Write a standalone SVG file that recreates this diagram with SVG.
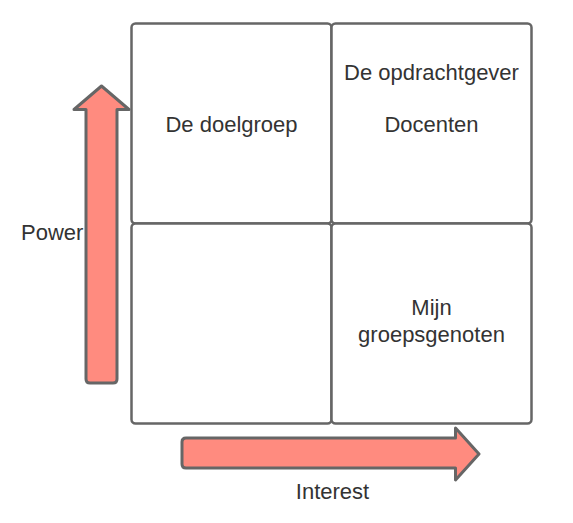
<svg xmlns="http://www.w3.org/2000/svg" width="573" height="523" viewBox="0 0 573 523">
<style>
.box{fill:#ffffff;stroke:#666666;stroke-width:2.5}
.arrow{fill:#ff8b7f;stroke:#666666;stroke-width:3;stroke-linejoin:round}
.t{font-family:"Liberation Sans",Arial,sans-serif;font-size:22px;fill:#333333}
.c{text-anchor:middle}
</style>
<rect width="573" height="523" fill="#ffffff"/>
<g id="quadrant-top-left">
<rect class="box" x="131.5" y="23.5" width="200" height="200" rx="4"/>
<text class="t c" x="231.5" y="132">De doelgroep</text>
</g>
<g id="quadrant-top-right">
<rect class="box" x="331.5" y="23.5" width="200" height="200" rx="4"/>
<text class="t c" x="431.5" y="80">De opdrachtgever</text>
<text class="t c" x="431.5" y="132">Docenten</text>
</g>
<g id="quadrant-bottom-left">
<rect class="box" x="131.5" y="223.5" width="200" height="200" rx="4"/>
</g>
<g id="quadrant-bottom-right">
<rect class="box" x="331.5" y="223.5" width="200" height="200" rx="4"/>
<text class="t c" x="431.5" y="315">Mijn</text>
<text class="t c" x="431.5" y="342">groepsgenoten</text>
</g>
<g id="connectors">
<g id="power-arrow">
<path class="arrow" d="M101.5,86 L129,109.5 L117,109.5 L117,379 Q117,383 113,383 L90,383 Q86,383 86,379 L86,109.5 L74,109.5 Z"/>
<text class="t" x="21" y="240">Power</text>
</g>
<g id="interest-arrow">
<path class="arrow" d="M479,454 L455.5,480 L455.5,468 L186,468 Q182,468 182,464 L182,442 Q182,438 186,438 L455.5,438 L455.5,428 Z"/>
<text class="t c" x="332.5" y="499">Interest</text>
</g>
</g>
</svg>
